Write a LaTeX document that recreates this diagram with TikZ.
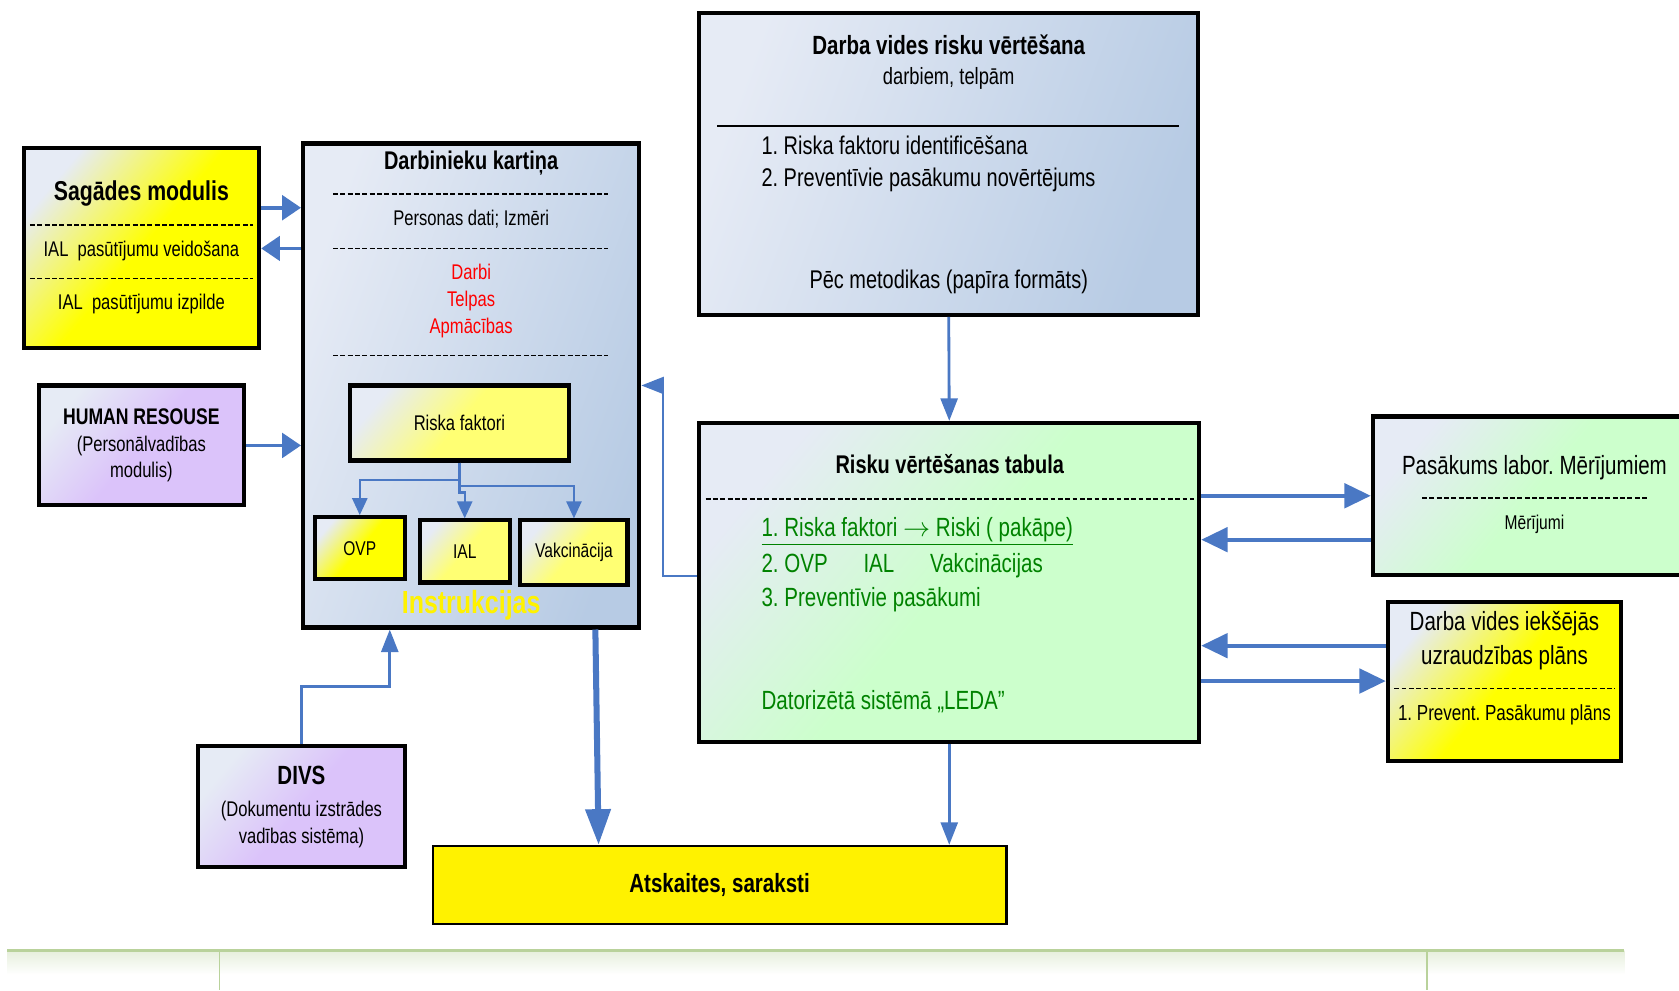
\documentclass[tikz,border=0pt]{standalone}
\usepackage{fontspec}
\setmainfont{Liberation Sans}[FakeStretch=0.78]
\usepackage{tikz}
\usetikzlibrary{arrows.meta}
\usetikzlibrary{calc}
\usepackage{xcolor}
\definecolor{pale}{RGB}{230,235,245}
\definecolor{cardblue}{RGB}{183,203,228}
\definecolor{lilac}{RGB}{219,195,250}
\definecolor{mint}{RGB}{204,255,204}
\definecolor{leaf}{RGB}{0,130,0}
\definecolor{arrowblue}{RGB}{74,120,196}
\definecolor{rulegreen}{RGB}{185,210,155}
\colorlet{softyellow}{yellow!55!white}
\frenchspacing

\begin{document}
\begin{tikzpicture}[x=0.02cm, y=-0.02cm,
	box/.style={draw=black, line width=2.2pt, inner sep=2pt, align=center},
	yellowbox/.style={box, left color=pale, right color=yellow, middle color=yellow, shading angle=50},
	softbox/.style={box, left color=pale, right color=softyellow, middle color=softyellow, shading angle=50},
	bluebox/.style={box, left color=pale, right color=cardblue, shading angle=70},
	lilacbox/.style={box, left color=pale, right color=lilac, middle color=lilac, shading angle=50},
	greenbox/.style={box, left color=pale, right color=mint, middle color=mint, shading angle=50},
	dashrule/.style={line width=0.8pt, dash pattern=on 2.6pt off 1.3pt},
	arr/.style={arrowblue, line width=2pt, -{Triangle[length=14pt, width=13pt]}},
	shortarr/.style={arrowblue, line width=2pt, -{Triangle[length=10pt, width=13pt]}},
	thinarr/.style={arrowblue, line width=1.5pt, -{Triangle[length=12pt, width=9pt]}},
	subarr/.style={arrowblue, line width=1.2pt, -{Triangle[length=9pt, width=8pt]}},
	fatarr/.style={arrowblue, line width=3.2pt, -{Triangle[length=19pt, width=13pt]}},
	headtext/.style={font=\bfseries\fontsize{14}{17}\selectfont},
	bodytext/.style={font=\fontsize{13.6}{16.5}\selectfont},
	smalltext/.style={font=\fontsize{11.3}{14.2}\selectfont},
	tinytext/.style={font=\fontsize{10.6}{13}\selectfont}]
			\useasboundingbox (0,0) rectangle (1568,925);
			% boxes
			\node[yellowbox, minimum width=4.4cm, minimum height=3.74cm] (sag) at (132,231.5) {};
			\node[lilacbox, minimum width=3.84cm, minimum height=2.24cm, smalltext] (hr) at (132,416)
				{{\bfseries\fontsize{12}{14}\selectfont HUMAN RESOUSE}\\(Personālvadības\\modulis)};
			\node[bluebox, minimum width=6.28cm, minimum height=9.04cm] (dk) at (440,360) {};
			\node[softbox, minimum width=4.08cm, minimum height=1.4cm, smalltext] (rf) at (429,395) {Riska faktori};
			\node[yellowbox, minimum width=1.68cm, minimum height=1.16cm, tinytext] (ovp) at (336,512) {OVP};
			\node[softbox, minimum width=1.68cm, minimum height=1.16cm, tinytext] (ial) at (434,515) {IAL};
			\node[softbox, minimum width=2.0cm, minimum height=1.2cm, tinytext] (vak) at (536,516) {Vakcinācija};
			\node[lilacbox, minimum width=3.86cm, minimum height=2.26cm, smalltext] (divs) at (281.5,753.5)
				{{\bfseries\fontsize{14}{16}\selectfont DIVS}\\[3pt](Dokumentu izstrādes\\vadības sistēma)};
			\node[box, fill=yellow, line width=1.1pt, minimum width=10.72cm, minimum height=1.46cm, headtext] (ats) at (672,826.5) {Atskaites, saraksti};
			\node[bluebox, minimum width=9.32cm, minimum height=5.64cm] (dv) at (886,153) {};
			\node[greenbox, minimum width=9.34cm, minimum height=5.96cm] (rt) at (886.5,544) {};
			\node[greenbox, minimum width=5.96cm, minimum height=2.96cm] (pl) at (1431,463) {};
			\node[yellowbox, minimum width=4.36cm, minimum height=2.98cm] (iu) at (1405,636.5) {};
			% Sagades modulis
			\node[font=\bfseries\fontsize{14.5}{17}\selectfont] (sagHead) at (132,181) {Sagādes modulis};
			\draw[dashrule] (28,210) -- (236,210);
			\node[smalltext] (sagA) at (132,234) {IAL~~pasūtījumu veidošana};
			\draw[dashrule] (28,260) -- (236,260);
			\node[smalltext] (sagB) at (132,284) {IAL~~pasūtījumu izpilde};
			% Darbinieku kartina
			\node[font=\bfseries\fontsize{13.6}{16}\selectfont] (dkHead) at (440,152) {Darbinieku kartiņa};
			\draw[dashrule] (311,181) -- (568,181);
			\node[smalltext] (dkData) at (440,205) {Personas dati; Izmēri};
			\draw[dashrule] (311,232) -- (568,232);
			\node[smalltext, text=red, align=center] (dkRed) at (440,281) {Darbi\\Telpas\\Apmācības};
			\draw[dashrule] (311,332) -- (568,332);
			\node[font=\bfseries\fontsize{17}{20}\selectfont, text=yellow] (dkInstr) at (440,565) {Instrukcijas};
			% Darba vides risku vertesana
			\node[headtext] (dvHead) at (886,42) {Darba vides risku vērtēšana};
			\node[font=\fontsize{12.5}{15}\selectfont] (dvSub) at (886,73) {darbiem, telpām};
			\draw[line width=1pt] (670,118) -- (1101,118);
			\node[bodytext, anchor=west] (dvA) at (705,136) {1. Riska faktoru identificēšana};
			\node[bodytext, anchor=west] (dvB) at (705,168) {2. Preventīvie pasākumu novērtējums};
			\node[bodytext] (dvC) at (886,263) {Pēc metodikas (papīra formāts)};
			% Risku vertesanas tabula
			\node[font=\bfseries\fontsize{13.6}{16}\selectfont] (rtHead) at (887,433) {Risku vērtēšanas tabula};
			\draw[dashrule] (659,466) -- (1115,466);
			\node[font=\fontsize{14}{17}\selectfont, text=leaf, anchor=west] (rtA) at (705,496) {\underline{1. Riska faktori $\rightarrow$ Riski ( pakāpe)}};
			\node[font=\fontsize{14}{17}\selectfont, text=leaf, anchor=west] (rtB) at (705,528) {2. OVP\hspace{19pt}IAL\hspace{19pt}Vakcinācijas};
			\node[font=\fontsize{14}{17}\selectfont, text=leaf, anchor=west] (rtC) at (705,560) {3. Preventīvie pasākumi};
			\node[font=\fontsize{14}{17}\selectfont, text=leaf, anchor=west] (rtD) at (705,655) {Datorizētā sistēmā „LEDA”};
			% Pasakums labor.
			\node[font=\fontsize{14}{17}\selectfont] (plHead) at (1433,437) {Pasākums labor. Mērījumiem};
			\draw[dashrule] (1328,465) -- (1538,465);
			\node[tinytext] (plSub) at (1433,490) {Mērījumi};
			% Darba vides ieksejas uzraudzibas plans
			\node[font=\fontsize{14}{18.2}\selectfont, align=center] (iuHead) at (1405,598) {Darba vides iekšējās\\uzraudzības plāns};
			\draw[dashrule] (1302,643) -- (1508,643);
			\node[font=\fontsize{11.6}{14}\selectfont] (iuSub) at (1405,668) {1. Prevent. Pasākumu plāns};
			% connectors
			\draw[shortarr] (sag.east |- 0,194) -- (dk.west |- 0,194);
			\draw[shortarr] (dk.west |- 0,232) -- (sag.east |- 0,232);
			\draw[shortarr] (hr.east) -- (dk.west |- hr.east);
			\draw[subarr] (rf.south) -- ++(0,16) -| (ovp.north);
			\draw[subarr] (rf.south) -- ++(0,22) -| (vak.north);
			\draw[subarr] (rf.south) -- ++(0,28) -| (ial.north);
			\draw[thinarr] (divs.north) -- ++(0,-54) -| (dk.south -| 364,0);
			\draw[fatarr] (dk.south -| 556,0) -- (ats.north -| 559,0);
			\draw[thinarr] (rt.west |- 0,538) -- ++(-32,0) |- (dk.east |- 0,360);
			\draw[thinarr] (dv.south) -- (rt.north);
			\draw[thinarr] (rt.south) -- (ats.north -| rt.south);
			\draw[arr] (rt.east |- 0,463) -- (pl.west |- 0,463);
			\draw[arr] (pl.west |- 0,504) -- (rt.east |- 0,504);
			\draw[arr] (iu.west |- 0,603) -- (rt.east |- 0,603);
			\draw[arr] (rt.east |- 0,636) -- (iu.west |- 0,636);
			% slide footer
			\shade[top color=rulegreen!35, bottom color=white] (7,888) rectangle (1517,910);
			\draw[rulegreen, line width=1.5pt] (7,888) -- (1517,888);
			\draw[rulegreen, line width=1pt] (205,888) -- (205,925);
			\draw[rulegreen, line width=1pt] (1333,888) -- (1333,925);
		\end{tikzpicture}
\end{document}
